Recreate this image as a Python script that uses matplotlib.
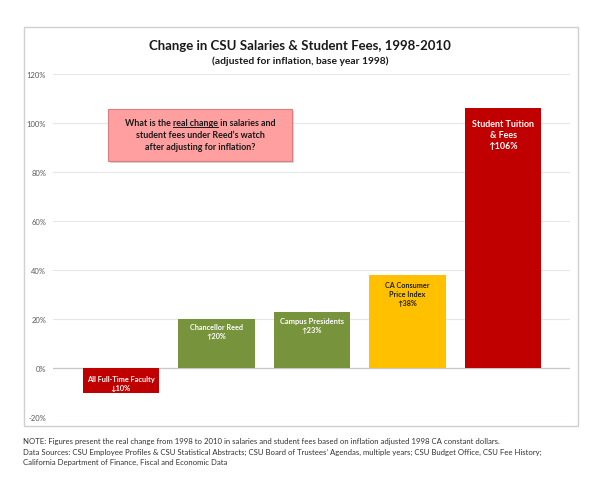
import matplotlib
matplotlib.use("Agg")
import matplotlib.pyplot as plt
from matplotlib.patches import Rectangle
from matplotlib.lines import Line2D
import numpy as np

categories = ["All Full-Time Faculty", "Chancellor Reed", "Campus Presidents",
              "CA Consumer\nPrice Index", "Student Tuition\n& Fees"]
values = [-10, 20, 23, 38, 106]
y_ticks = [-20, 0, 20, 40, 60, 80, 100, 120]
title = "Change in CSU Salaries & Student Fees, 1998-2010"
subtitle = "(adjusted for inflation, base year 1998)"
callout_lines = ["What is the real change in salaries and",
                 "student fees under Reed\u2019s watch",
                 "after adjusting for inflation?"]
underlined = "real change"
notes = ["NOTE: Figures present the real change from 1998 to 2010 in salaries and student fees based on inflation adjusted 1998 CA constant dollars.",
         "Data Sources: CSU Employee Profiles & CSU Statistical Abstracts; CSU Board of Trustees\u2019 Agendas, multiple years; CSU Budget Office, CSU Fee History;",
         "California Department of Finance, Fiscal and Economic Data"]

colors = ["#C00000", "#77933C", "#77933C", "#FFC000", "#C00000"]
label_colors = ["white", "white", "white", "#202020", "white"]
label_offsets = [-5, -3, -3.5, -4.5, -8]
label_sizes = [5.3, 5.2, 5.4, 5.2, 6.4]

FONT = ["Lato", "DejaVu Sans"]
plt.rcParams["font.family"] = FONT

W, H = 600, 485
fig = plt.figure(figsize=(6, 4.85), dpi=100)

def fx(px):
    return px / W

def fy(py):
    return 1 - py / H

# outer border
fig.patches.append(Rectangle((fx(24), fy(427)), fx(578) - fx(24), fy(28) - fy(427),
                             transform=fig.transFigure, fill=False,
                             edgecolor="#D0D0D0", linewidth=1.0, zorder=0))

ax = fig.add_axes([fx(53), fy(418), fx(570) - fx(53), fy(75) - fy(418)])
x = np.arange(len(categories))
bars = ax.bar(x, values, width=0.8, color=colors, zorder=3)
ax.set_xlim(-0.71, 4.70)
ax.set_ylim(-20, 120)
ax.set_yticks(y_ticks)
ax.set_yticklabels([f"{t}%" for t in y_ticks], fontsize=5.5, color="#595959")
ax.set_xticks([])
ax.tick_params(axis="y", length=0, pad=5)
for s in ax.spines.values():
    s.set_visible(False)
ax.grid(axis="y", color="#E6E6E6", linewidth=0.8, zorder=0)
ax.axhline(0, color="#C8C8C8", linewidth=0.9, zorder=2)

for i, (cat, v) in enumerate(zip(categories, values)):
    arrow = "\u2191" if v >= 0 else "\u2193"
    txt = f"{cat}\n{arrow}{abs(v)}%"
    top = max(v, 0)
    ax.annotate(txt, (x[i], top), xytext=(0, label_offsets[i]), textcoords="offset points",
                ha="center", va="top", fontsize=label_sizes[i], fontweight="bold",
                color=label_colors[i], linespacing=1.25, zorder=4)

fig.text(0.5, fy(46), title, ha="center", va="center", fontsize=9.5, fontweight="bold", color="#1a1a1a")
fig.text(0.5, fy(61), subtitle, ha="center", va="center", fontsize=7.4, fontweight="bold", color="#1a1a1a")

# callout box with shadow
bx0, by0, bx1, by1 = 108, 110, 292, 162
fig.patches.append(Rectangle((fx(bx0 + 2), fy(by1 + 2)), fx(bx1) - fx(bx0), fy(by0) - fy(by1),
                             transform=fig.transFigure, facecolor="#BBBBBB", edgecolor="none",
                             alpha=0.6, zorder=5))
fig.patches.append(Rectangle((fx(bx0), fy(by1)), fx(bx1) - fx(bx0), fy(by0) - fy(by1),
                             transform=fig.transFigure, facecolor="#FF9F9F", edgecolor="#D88080",
                             linewidth=0.8, zorder=6))
cx = (bx0 + bx1) / 2
line_y = [124, 136, 148]
CFS = 6.4
texts = []
for ln, yy in zip(callout_lines, line_y):
    t = fig.text(fx(cx), fy(yy), ln, ha="center", va="center", fontsize=CFS,
                 fontweight="bold", color="#1a1a1a", zorder=7)
    texts.append(t)

# underline "real change"
fig.canvas.draw()
r = fig.canvas.get_renderer()
full = texts[0].get_window_extent(r)
def width_of(s):
    tt = fig.text(0, 0, s, fontsize=CFS, fontweight="bold")
    w = tt.get_window_extent(r).width
    tt.remove()
    return w
first = callout_lines[0]
end_idx = first.index(underlined) + len(underlined)
w_prefix = width_of(first[:end_idx])
w_und = width_of(underlined)
x_end = full.x0 + w_prefix
x_start = x_end - w_und
y_ul = full.y0 + 1.0
fig.lines.append(Line2D([x_start / W, x_end / W], [y_ul / H, y_ul / H],
                        transform=fig.transFigure, color="#1a1a1a", linewidth=0.7, zorder=8))

for ln, yy in zip(notes, [442, 452, 462]):
    fig.text(fx(23), fy(yy), ln, ha="left", va="center", fontsize=5.6, color="#333333")

fig.savefig("out.png", dpi=100)
